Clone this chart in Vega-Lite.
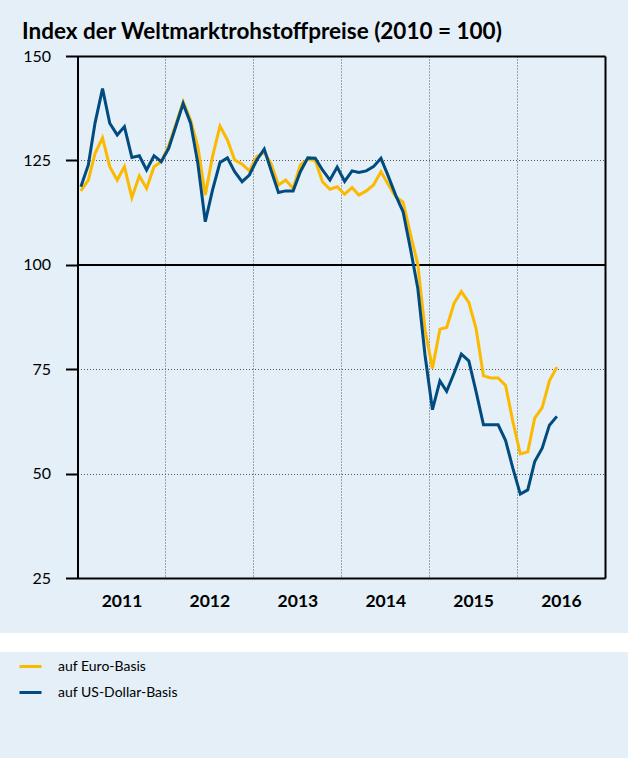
{
  "$schema": "https://vega.github.io/schema/vega-lite/v6.json",
  "background": "#e4eff7",
  "padding": {"top": 21, "left": 0, "right": 0, "bottom": 0},
  "columns": 1,
  "spacing": 0,
  "align": "none",
  "bounds": "full",
  "resolve": {"scale": {"color": "independent"}},
  "config": {
    "font": "Lato",
    "view": {"stroke": null},
    "axis": {"labelColor": "black", "domainColor": "black", "domainWidth": 2, "tickColor": "black", "tickWidth": 2, "gridColor": "#555555", "gridDash": [1, 2], "gridWidth": 1, "title": null}
  },
  "datasets": {
    "d": [
      {"date": "2011-01-15", "series": "auf Euro-Basis", "value": 117.7},
      {"date": "2011-02-15", "series": "auf Euro-Basis", "value": 120.3},
      {"date": "2011-03-15", "series": "auf Euro-Basis", "value": 126.7},
      {"date": "2011-04-15", "series": "auf Euro-Basis", "value": 130.4},
      {"date": "2011-05-15", "series": "auf Euro-Basis", "value": 123.5},
      {"date": "2011-06-15", "series": "auf Euro-Basis", "value": 120.3},
      {"date": "2011-07-15", "series": "auf Euro-Basis", "value": 123.5},
      {"date": "2011-08-15", "series": "auf Euro-Basis", "value": 116.1},
      {"date": "2011-09-15", "series": "auf Euro-Basis", "value": 121.3},
      {"date": "2011-10-15", "series": "auf Euro-Basis", "value": 118.3},
      {"date": "2011-11-15", "series": "auf Euro-Basis", "value": 123.5},
      {"date": "2011-12-15", "series": "auf Euro-Basis", "value": 124.7},
      {"date": "2012-01-15", "series": "auf Euro-Basis", "value": 128.5},
      {"date": "2012-02-15", "series": "auf Euro-Basis", "value": 133.9},
      {"date": "2012-03-15", "series": "auf Euro-Basis", "value": 139.0},
      {"date": "2012-04-15", "series": "auf Euro-Basis", "value": 134.6},
      {"date": "2012-05-15", "series": "auf Euro-Basis", "value": 128.3},
      {"date": "2012-06-15", "series": "auf Euro-Basis", "value": 116.7},
      {"date": "2012-07-15", "series": "auf Euro-Basis", "value": 125.9},
      {"date": "2012-08-15", "series": "auf Euro-Basis", "value": 133.2},
      {"date": "2012-09-15", "series": "auf Euro-Basis", "value": 129.9},
      {"date": "2012-10-15", "series": "auf Euro-Basis", "value": 125.1},
      {"date": "2012-11-15", "series": "auf Euro-Basis", "value": 124.1},
      {"date": "2012-12-15", "series": "auf Euro-Basis", "value": 122.5},
      {"date": "2013-01-15", "series": "auf Euro-Basis", "value": 125.9},
      {"date": "2013-02-15", "series": "auf Euro-Basis", "value": 126.9},
      {"date": "2013-03-15", "series": "auf Euro-Basis", "value": 124.3},
      {"date": "2013-04-15", "series": "auf Euro-Basis", "value": 119.1},
      {"date": "2013-05-15", "series": "auf Euro-Basis", "value": 120.3},
      {"date": "2013-06-15", "series": "auf Euro-Basis", "value": 118.3},
      {"date": "2013-07-15", "series": "auf Euro-Basis", "value": 123.9},
      {"date": "2013-08-15", "series": "auf Euro-Basis", "value": 125.3},
      {"date": "2013-09-15", "series": "auf Euro-Basis", "value": 125.0},
      {"date": "2013-10-15", "series": "auf Euro-Basis", "value": 119.9},
      {"date": "2013-11-15", "series": "auf Euro-Basis", "value": 118.1},
      {"date": "2013-12-15", "series": "auf Euro-Basis", "value": 118.7},
      {"date": "2014-01-15", "series": "auf Euro-Basis", "value": 116.9},
      {"date": "2014-02-15", "series": "auf Euro-Basis", "value": 118.5},
      {"date": "2014-03-15", "series": "auf Euro-Basis", "value": 116.7},
      {"date": "2014-04-15", "series": "auf Euro-Basis", "value": 117.7},
      {"date": "2014-05-15", "series": "auf Euro-Basis", "value": 119.1},
      {"date": "2014-06-15", "series": "auf Euro-Basis", "value": 122.3},
      {"date": "2014-07-15", "series": "auf Euro-Basis", "value": 119.3},
      {"date": "2014-08-15", "series": "auf Euro-Basis", "value": 116.3},
      {"date": "2014-09-15", "series": "auf Euro-Basis", "value": 115.0},
      {"date": "2014-10-15", "series": "auf Euro-Basis", "value": 107.5},
      {"date": "2014-11-15", "series": "auf Euro-Basis", "value": 100.1},
      {"date": "2014-12-15", "series": "auf Euro-Basis", "value": 84.5},
      {"date": "2015-01-15", "series": "auf Euro-Basis", "value": 75.2},
      {"date": "2015-02-15", "series": "auf Euro-Basis", "value": 84.6},
      {"date": "2015-03-15", "series": "auf Euro-Basis", "value": 85.0},
      {"date": "2015-04-15", "series": "auf Euro-Basis", "value": 90.8},
      {"date": "2015-05-15", "series": "auf Euro-Basis", "value": 93.6},
      {"date": "2015-06-15", "series": "auf Euro-Basis", "value": 91.0},
      {"date": "2015-07-15", "series": "auf Euro-Basis", "value": 84.8},
      {"date": "2015-08-15", "series": "auf Euro-Basis", "value": 73.4},
      {"date": "2015-09-15", "series": "auf Euro-Basis", "value": 72.9},
      {"date": "2015-10-15", "series": "auf Euro-Basis", "value": 72.9},
      {"date": "2015-11-15", "series": "auf Euro-Basis", "value": 71.1},
      {"date": "2015-12-15", "series": "auf Euro-Basis", "value": 62.5},
      {"date": "2016-01-15", "series": "auf Euro-Basis", "value": 54.7},
      {"date": "2016-02-15", "series": "auf Euro-Basis", "value": 55.2},
      {"date": "2016-03-15", "series": "auf Euro-Basis", "value": 63.3},
      {"date": "2016-04-15", "series": "auf Euro-Basis", "value": 65.8},
      {"date": "2016-05-15", "series": "auf Euro-Basis", "value": 72.2},
      {"date": "2016-06-15", "series": "auf Euro-Basis", "value": 75.5},
      {"date": "2011-01-15", "series": "auf US-Dollar-Basis", "value": 118.7},
      {"date": "2011-02-15", "series": "auf US-Dollar-Basis", "value": 123.9},
      {"date": "2011-03-15", "series": "auf US-Dollar-Basis", "value": 134.0},
      {"date": "2011-04-15", "series": "auf US-Dollar-Basis", "value": 142.2},
      {"date": "2011-05-15", "series": "auf US-Dollar-Basis", "value": 133.9},
      {"date": "2011-06-15", "series": "auf US-Dollar-Basis", "value": 131.1},
      {"date": "2011-07-15", "series": "auf US-Dollar-Basis", "value": 133.1},
      {"date": "2011-08-15", "series": "auf US-Dollar-Basis", "value": 125.7},
      {"date": "2011-09-15", "series": "auf US-Dollar-Basis", "value": 126.1},
      {"date": "2011-10-15", "series": "auf US-Dollar-Basis", "value": 122.7},
      {"date": "2011-11-15", "series": "auf US-Dollar-Basis", "value": 126.1},
      {"date": "2011-12-15", "series": "auf US-Dollar-Basis", "value": 124.7},
      {"date": "2012-01-15", "series": "auf US-Dollar-Basis", "value": 127.9},
      {"date": "2012-02-15", "series": "auf US-Dollar-Basis", "value": 133.4},
      {"date": "2012-03-15", "series": "auf US-Dollar-Basis", "value": 138.6},
      {"date": "2012-04-15", "series": "auf US-Dollar-Basis", "value": 133.9},
      {"date": "2012-05-15", "series": "auf US-Dollar-Basis", "value": 124.3},
      {"date": "2012-06-15", "series": "auf US-Dollar-Basis", "value": 110.3},
      {"date": "2012-07-15", "series": "auf US-Dollar-Basis", "value": 117.9},
      {"date": "2012-08-15", "series": "auf US-Dollar-Basis", "value": 124.5},
      {"date": "2012-09-15", "series": "auf US-Dollar-Basis", "value": 125.6},
      {"date": "2012-10-15", "series": "auf US-Dollar-Basis", "value": 122.3},
      {"date": "2012-11-15", "series": "auf US-Dollar-Basis", "value": 119.9},
      {"date": "2012-12-15", "series": "auf US-Dollar-Basis", "value": 121.5},
      {"date": "2013-01-15", "series": "auf US-Dollar-Basis", "value": 125.1},
      {"date": "2013-02-15", "series": "auf US-Dollar-Basis", "value": 127.7},
      {"date": "2013-03-15", "series": "auf US-Dollar-Basis", "value": 122.7},
      {"date": "2013-04-15", "series": "auf US-Dollar-Basis", "value": 117.3},
      {"date": "2013-05-15", "series": "auf US-Dollar-Basis", "value": 117.7},
      {"date": "2013-06-15", "series": "auf US-Dollar-Basis", "value": 117.7},
      {"date": "2013-07-15", "series": "auf US-Dollar-Basis", "value": 122.3},
      {"date": "2013-08-15", "series": "auf US-Dollar-Basis", "value": 125.6},
      {"date": "2013-09-15", "series": "auf US-Dollar-Basis", "value": 125.5},
      {"date": "2013-10-15", "series": "auf US-Dollar-Basis", "value": 122.7},
      {"date": "2013-11-15", "series": "auf US-Dollar-Basis", "value": 120.3},
      {"date": "2013-12-15", "series": "auf US-Dollar-Basis", "value": 123.4},
      {"date": "2014-01-15", "series": "auf US-Dollar-Basis", "value": 120.0},
      {"date": "2014-02-15", "series": "auf US-Dollar-Basis", "value": 122.5},
      {"date": "2014-03-15", "series": "auf US-Dollar-Basis", "value": 122.1},
      {"date": "2014-04-15", "series": "auf US-Dollar-Basis", "value": 122.5},
      {"date": "2014-05-15", "series": "auf US-Dollar-Basis", "value": 123.5},
      {"date": "2014-06-15", "series": "auf US-Dollar-Basis", "value": 125.5},
      {"date": "2014-07-15", "series": "auf US-Dollar-Basis", "value": 121.3},
      {"date": "2014-08-15", "series": "auf US-Dollar-Basis", "value": 116.7},
      {"date": "2014-09-15", "series": "auf US-Dollar-Basis", "value": 112.7},
      {"date": "2014-10-15", "series": "auf US-Dollar-Basis", "value": 104.0},
      {"date": "2014-11-15", "series": "auf US-Dollar-Basis", "value": 94.4},
      {"date": "2014-12-15", "series": "auf US-Dollar-Basis", "value": 78.4},
      {"date": "2015-01-15", "series": "auf US-Dollar-Basis", "value": 65.3},
      {"date": "2015-02-15", "series": "auf US-Dollar-Basis", "value": 72.2},
      {"date": "2015-03-15", "series": "auf US-Dollar-Basis", "value": 69.7},
      {"date": "2015-04-15", "series": "auf US-Dollar-Basis", "value": 74.1},
      {"date": "2015-05-15", "series": "auf US-Dollar-Basis", "value": 78.6},
      {"date": "2015-06-15", "series": "auf US-Dollar-Basis", "value": 77.0},
      {"date": "2015-07-15", "series": "auf US-Dollar-Basis", "value": 69.7},
      {"date": "2015-08-15", "series": "auf US-Dollar-Basis", "value": 61.7},
      {"date": "2015-09-15", "series": "auf US-Dollar-Basis", "value": 61.7},
      {"date": "2015-10-15", "series": "auf US-Dollar-Basis", "value": 61.7},
      {"date": "2015-11-15", "series": "auf US-Dollar-Basis", "value": 57.9},
      {"date": "2015-12-15", "series": "auf US-Dollar-Basis", "value": 51.3},
      {"date": "2016-01-15", "series": "auf US-Dollar-Basis", "value": 45.1},
      {"date": "2016-02-15", "series": "auf US-Dollar-Basis", "value": 46.1},
      {"date": "2016-03-15", "series": "auf US-Dollar-Basis", "value": 52.9},
      {"date": "2016-04-15", "series": "auf US-Dollar-Basis", "value": 56.1},
      {"date": "2016-05-15", "series": "auf US-Dollar-Basis", "value": 61.6},
      {"date": "2016-06-15", "series": "auf US-Dollar-Basis", "value": 63.7}
    ]
  },
  "concat": [
    {
      "width": 605,
      "height": 522,
      "title": {"text": "Index der Weltmarktrohstoffpreise (2010 = 100)", "anchor": "start", "frame": "group", "dx": 22, "offset": -13.5, "baseline": "alphabetic", "fontSize": 22.5, "fontWeight": "bold", "color": "black", "font": "Lato"},
      "data": {"name": "d"},
      "resolve": {"axis": {"x": "independent", "y": "independent"}},
      "layer": [
        {
          "mark": {"type": "rule", "color": "black", "strokeWidth": 1.5},
          "encoding": {
            "x": {"datum": 1293840000000, "type": "temporal", "axis": null},
            "x2": {"datum": 1483228800000},
            "y": {"datum": 100, "type": "quantitative", "axis": null}
          }
        },
        {
          "mark": {"type": "line", "strokeWidth": 3, "strokeJoin": "miter"},
          "encoding": {
            "x": {
              "field": "date", "type": "temporal",
              "scale": {"type": "utc", "domain": [1293840000000, 1483228800000], "range": [77.5, 605]},
              "axis": {"orient": "bottom", "values": [1293840000000, 1325376000000, 1356998400000, 1388534400000, 1420070400000, 1451606400000], "format": "%Y", "labelOffset": 44, "labelAlign": "center", "ticks": false, "tickSize": 0, "labelPadding": 14, "labelFontSize": 17.5, "labelFontWeight": "bold", "grid": true, "minExtent": 55, "maxExtent": 55, "labelFlush": false, "title": null}
            },
            "y": {
              "field": "value", "type": "quantitative",
              "scale": {"domain": [25, 150], "nice": false, "zero": false},
              "axis": {"orient": "left", "offset": -77.5, "values": [25, 50, 75, 100, 125, 150], "tickSize": 12, "labelPadding": 15, "labelFontSize": 16, "grid": true, "minExtent": 0, "maxExtent": 0, "labelFlush": false, "title": null}
            },
            "color": {
              "field": "series", "type": "nominal",
              "scale": {"domain": ["auf Euro-Basis", "auf US-Dollar-Basis"], "range": ["#fbb900", "#004b7f"]},
              "legend": null
            }
          }
        },
        {
          "mark": {"type": "point", "opacity": 0},
          "encoding": {
            "x": {"field": "date", "type": "temporal", "axis": {"orient": "top", "labels": false, "ticks": false, "grid": false, "domain": true, "minExtent": 0, "maxExtent": 0, "title": null}},
            "y": {"field": "value", "type": "quantitative", "axis": {"orient": "right", "labels": false, "ticks": false, "grid": false, "domain": true, "minExtent": 0, "maxExtent": 0, "title": null}}
          }
        }
      ]
    },
    {
      "width": 628,
      "height": 19,
      "view": {"fill": "white", "stroke": null},
      "data": {"values": [{}]},
      "mark": {"type": "point", "opacity": 0},
      "encoding": {}
    },
    {
      "width": 628,
      "height": 106,
      "view": {"stroke": null},
      "data": {"name": "d"},
      "mark": {"type": "point", "opacity": 0},
      "encoding": {
        "color": {
          "field": "series", "type": "nominal",
          "scale": {"domain": ["auf Euro-Basis", "auf US-Dollar-Basis"], "range": ["#fbb900", "#004b7f"]},
          "legend": {"orient": "none", "legendX": 18, "legendY": 2, "title": null, "symbolType": "stroke", "symbolSize": 484, "symbolStrokeWidth": 3, "symbolOpacity": 1, "labelFontSize": 14, "labelOffset": 15, "rowPadding": 6, "padding": 0, "labelColor": "black", "labelFont": "Lato"}
        }
      }
    }
  ]
}
